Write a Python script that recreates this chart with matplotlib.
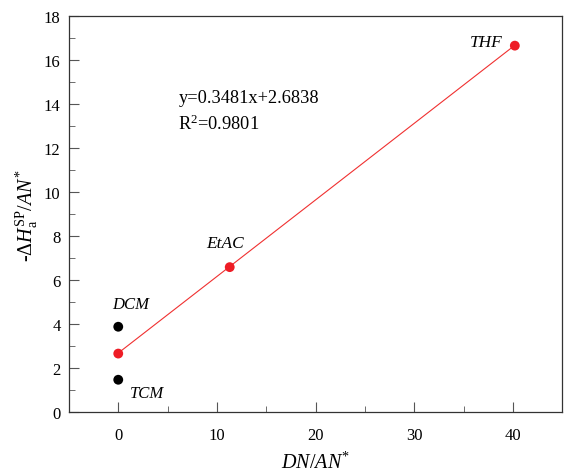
import matplotlib
matplotlib.use("Agg")
import matplotlib.pyplot as plt
import numpy as np
from matplotlib.ticker import MultipleLocator

plt.rcParams['font.family'] = ['Liberation Serif', 'DejaVu Serif']
plt.rcParams['mathtext.fontset'] = 'custom'
plt.rcParams['mathtext.rm'] = 'Liberation Serif'
plt.rcParams['mathtext.it'] = 'Liberation Serif:italic'

red_names = ['TCM_fit', 'EtAC', 'THF']
red_x = [0.0, 11.3, 40.2]
red_y = [2.66, 6.59, 16.66]
black_names = ['DCM', 'TCM']
black_x = [0.0, 0.0]
black_y = [3.88, 1.47]
slope, intercept = 0.3481, 2.6838

fig = plt.figure(figsize=(5.65, 4.77), dpi=100)
ax = fig.add_axes([0.122, 0.134, 0.873, 0.830])

xl = np.array([red_x[0], red_x[-1]])
ax.plot(xl, slope * xl + intercept, color='#f03030', lw=0.8, zorder=2)
ax.scatter(red_x, red_y, s=50, color='#ee1c25', zorder=3, edgecolors='none')
ax.scatter(black_x, black_y, s=50, color='black', zorder=3, edgecolors='none')

ax.text(-0.6, 4.73, 'DCM', style='italic', fontsize=12)
ax.text(1.2, 0.68, 'TCM', style='italic', fontsize=12)
ax.text(8.9, 7.5, 'EtAC', style='italic', fontsize=12.5)
ax.text(35.6, 16.64, 'THF', style='italic', fontsize=12.5)
ax.text(6.1, 14.1, 'y=0.3481x+2.6838', fontsize=13.2)
ax.text(6.1, 12.85, 'R$^2$=0.9801', fontsize=13.2)

ax.set_xlim(-5, 45)
ax.set_ylim(0, 18)
ax.xaxis.set_major_locator(MultipleLocator(10))
ax.xaxis.set_minor_locator(MultipleLocator(5))
ax.yaxis.set_major_locator(MultipleLocator(2))
ax.yaxis.set_minor_locator(MultipleLocator(1))
ax.tick_params(which='both', direction='in', top=False, right=False, labelsize=12, color='#555555')
ax.tick_params(which='major', length=7)
ax.tick_params(which='minor', length=4)
ax.tick_params(axis='x', which='major', pad=11)
ax.tick_params(axis='y', which='major', pad=6)
for s in ax.spines.values():
    s.set_linewidth(0.9)
    s.set_color('#333333')

ax.set_xlabel('$\\mathit{DN}/\\mathit{AN}^{*}$', fontsize=14.5, labelpad=6)
ax.set_ylabel('-$\\Delta\\mathit{H}_{\\mathrm{a}}^{\\mathrm{SP}}/\\mathit{AN}^{*}$', fontsize=14.5, labelpad=3)

fig.savefig('out.png', dpi=100)
